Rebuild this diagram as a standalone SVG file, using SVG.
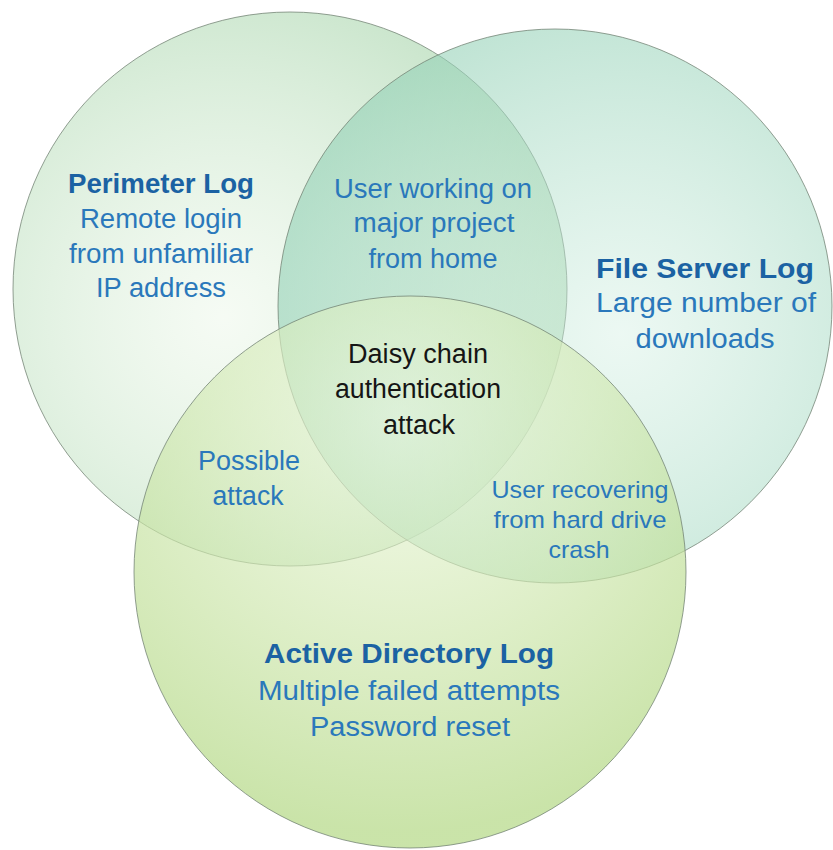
<svg xmlns="http://www.w3.org/2000/svg" width="833" height="850" viewBox="0 0 833 850">
<defs>
<radialGradient id="g1" cx="0.38" cy="0.55" r="0.62">
<stop offset="0" stop-color="#e4f4e0" stop-opacity="0.35"/>
<stop offset="1" stop-color="#a6d4aa" stop-opacity="0.6"/>
</radialGradient>
<radialGradient id="g2" cx="0.62" cy="0.55" r="0.62">
<stop offset="0" stop-color="#d2efe2" stop-opacity="0.42"/>
<stop offset="1" stop-color="#92d0b5" stop-opacity="0.6"/>
</radialGradient>
<radialGradient id="g3" cx="0.48" cy="0.22" r="0.75">
<stop offset="0" stop-color="#eef8de" stop-opacity="0.62"/>
<stop offset="1" stop-color="#b3d884" stop-opacity="0.7"/>
</radialGradient>
</defs>
<style>
.c{stroke:#6f7f70;stroke-width:1;stroke-opacity:0.75}
text{font-family:"Liberation Sans",Arial,sans-serif;font-size:27px;text-anchor:middle}
.h{font-weight:bold;fill:#1b62a3}
.b{fill:#2a78bb}
.k{fill:#151515}
.s{font-size:24px}
</style>
<g id="perimeter"><circle class="c" cx="290" cy="289" r="277" fill="url(#g1)"/></g>
<g id="fileserver"><circle class="c" cx="555" cy="306" r="277" fill="url(#g2)"/></g>
<g id="activedirectory"><circle class="c" cx="410" cy="572" r="276" fill="url(#g3)"/></g>
<g id="connectors"/>
<g id="perimeter-label">
<text class="h" x="161" y="193" textLength="186" lengthAdjust="spacingAndGlyphs">Perimeter Log</text>
<text class="b" x="161" y="228" textLength="162" lengthAdjust="spacingAndGlyphs">Remote login</text>
<text class="b" x="161" y="263" textLength="184" lengthAdjust="spacingAndGlyphs">from unfamiliar</text>
<text class="b" x="161" y="297" textLength="130" lengthAdjust="spacingAndGlyphs">IP address</text>
</g>
<g id="perimeter-fileserver">
<text class="b" x="433" y="198" textLength="198" lengthAdjust="spacingAndGlyphs">User working on</text>
<text class="b" x="434" y="232" textLength="161" lengthAdjust="spacingAndGlyphs">major project</text>
<text class="b" x="433" y="268" textLength="129" lengthAdjust="spacingAndGlyphs">from home</text>
</g>
<g id="fileserver-label">
<text class="h" x="705" y="278" textLength="218" lengthAdjust="spacingAndGlyphs">File Server Log</text>
<text class="b" x="706" y="312" textLength="220" lengthAdjust="spacingAndGlyphs">Large number of</text>
<text class="b" x="705" y="348" textLength="139" lengthAdjust="spacingAndGlyphs">downloads</text>
</g>
<g id="center">
<text class="k" x="418" y="363" textLength="140" lengthAdjust="spacingAndGlyphs">Daisy chain</text>
<text class="k" x="418" y="398" textLength="166" lengthAdjust="spacingAndGlyphs">authentication</text>
<text class="k" x="419" y="434" textLength="72" lengthAdjust="spacingAndGlyphs">attack</text>
</g>
<g id="perimeter-activedirectory">
<text class="b" x="249" y="470" textLength="102" lengthAdjust="spacingAndGlyphs">Possible</text>
<text class="b" x="248" y="505" textLength="71" lengthAdjust="spacingAndGlyphs">attack</text>
</g>
<g id="fileserver-activedirectory">
<text class="b s" x="580" y="498" textLength="177" lengthAdjust="spacingAndGlyphs">User recovering</text>
<text class="b s" x="580" y="528" textLength="173" lengthAdjust="spacingAndGlyphs">from hard drive</text>
<text class="b s" x="579" y="558" textLength="61" lengthAdjust="spacingAndGlyphs">crash</text>
</g>
<g id="activedirectory-label">
<text class="h" x="409" y="663" textLength="290" lengthAdjust="spacingAndGlyphs">Active Directory Log</text>
<text class="b" x="409" y="700" textLength="302" lengthAdjust="spacingAndGlyphs">Multiple failed attempts</text>
<text class="b" x="410" y="736" textLength="200" lengthAdjust="spacingAndGlyphs">Password reset</text>
</g>
</svg>
